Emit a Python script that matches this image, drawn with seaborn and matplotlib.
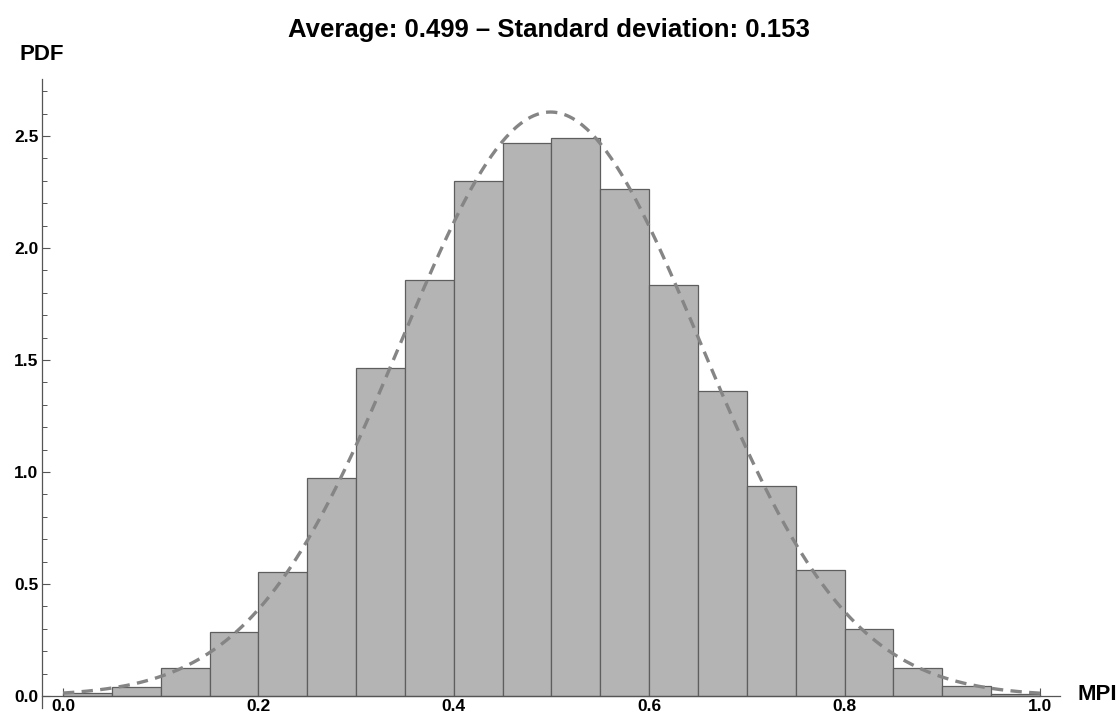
import numpy as np
import pandas as pd
import matplotlib
matplotlib.use("Agg")
import matplotlib.pyplot as plt
from matplotlib.ticker import MultipleLocator
import seaborn as sns

# Histogram of the MPI values (density per 0.05-wide bin)
bin_edges = [0.00, 0.05, 0.10, 0.15, 0.20, 0.25, 0.30, 0.35, 0.40, 0.45, 0.50,
             0.55, 0.60, 0.65, 0.70, 0.75, 0.80, 0.85, 0.90, 0.95, 1.00]
densities = [0.015, 0.040, 0.125, 0.286, 0.554, 0.973, 1.464, 1.857, 2.299, 2.469,
             2.490, 2.263, 1.835, 1.362, 0.938, 0.563, 0.300, 0.125, 0.045, 0.010]

# Fitted normal distribution
mean_mpi = 0.499
std_mpi = 0.153

x_ticks = [0.0, 0.2, 0.4, 0.6, 0.8, 1.0]
y_ticks = [0.0, 0.5, 1.0, 1.5, 2.0, 2.5]

sns.set_style("white")
plt.rcParams["font.family"] = ["Liberation Sans", "DejaVu Sans"]
plt.rcParams["text.color"] = "black"
plt.rcParams["xtick.labelcolor"] = "black"
plt.rcParams["ytick.labelcolor"] = "black"

fig = plt.figure(figsize=(11.18, 7.16), dpi=100)
ax = fig.add_axes([42 / 1118, 8 / 716, (1060 - 42) / 1118, (708 - 79) / 716])

centers = [(a + b) / 2 for a, b in zip(bin_edges[:-1], bin_edges[1:])]
hist_df = pd.DataFrame({"mpi": centers, "density": densities})
sns.histplot(data=hist_df, x="mpi", weights="density", bins=bin_edges, stat="count",
             color="#b4b4b4", alpha=1.0, edgecolor="#5e5e5e", linewidth=0.9, ax=ax)

xs = np.linspace(0.0, 1.0, 400)
pdf = np.exp(-0.5 * ((xs - mean_mpi) / std_mpi) ** 2) / (std_mpi * np.sqrt(2 * np.pi))
curve_df = pd.DataFrame({"x": xs, "pdf": pdf})
sns.lineplot(data=curve_df, x="x", y="pdf", color="#858585", linewidth=2.4,
             linestyle=(0, (3.4, 2.2)), ax=ax, zorder=3)

ax.set_xlim(-0.0215, 1.0205)
ax.set_ylim(-0.054, 2.755)
ax.set_xlabel("")
ax.set_ylabel("")

for side in ("top", "right"):
    ax.spines[side].set_visible(False)
ax.spines["bottom"].set_position(("data", 0))
for side in ("left", "bottom"):
    ax.spines[side].set_color("#555555")
    ax.spines[side].set_linewidth(0.9)

ax.set_xticks(x_ticks)
ax.set_xticklabels([f"{v:.1f}" for v in x_ticks])
ax.set_yticks(y_ticks)
ax.set_yticklabels([f"{v:.1f}" for v in y_ticks])
ax.xaxis.set_minor_locator(MultipleLocator(0.05))
ax.yaxis.set_minor_locator(MultipleLocator(0.1))
ax.tick_params(axis="both", which="major", direction="in", length=6, width=0.8,
               color="#555555", labelcolor="black", labelsize=12.5, pad=2.5)
ax.tick_params(axis="both", which="minor", direction="in", length=3.5, width=0.7,
               color="#555555")
ax.tick_params(left=True, bottom=True, which="both")
for lab in ax.get_xticklabels() + ax.get_yticklabels():
    lab.set_fontweight("bold")

fig.text(549 / 1118, 1 - 30 / 716, "Average: 0.499 \u2013 Standard deviation: 0.153",
         ha="center", va="center", fontsize=18.5, fontweight="bold", color="black")
fig.text(42 / 1118, 1 - 55 / 716, "PDF", ha="center", va="center",
         fontsize=16, fontweight="bold", color="black")
fig.text(1097 / 1118, 1 - 694 / 716, "MPI", ha="center", va="center",
         fontsize=16, fontweight="bold", color="black")

fig.savefig("out.png", dpi=100)
